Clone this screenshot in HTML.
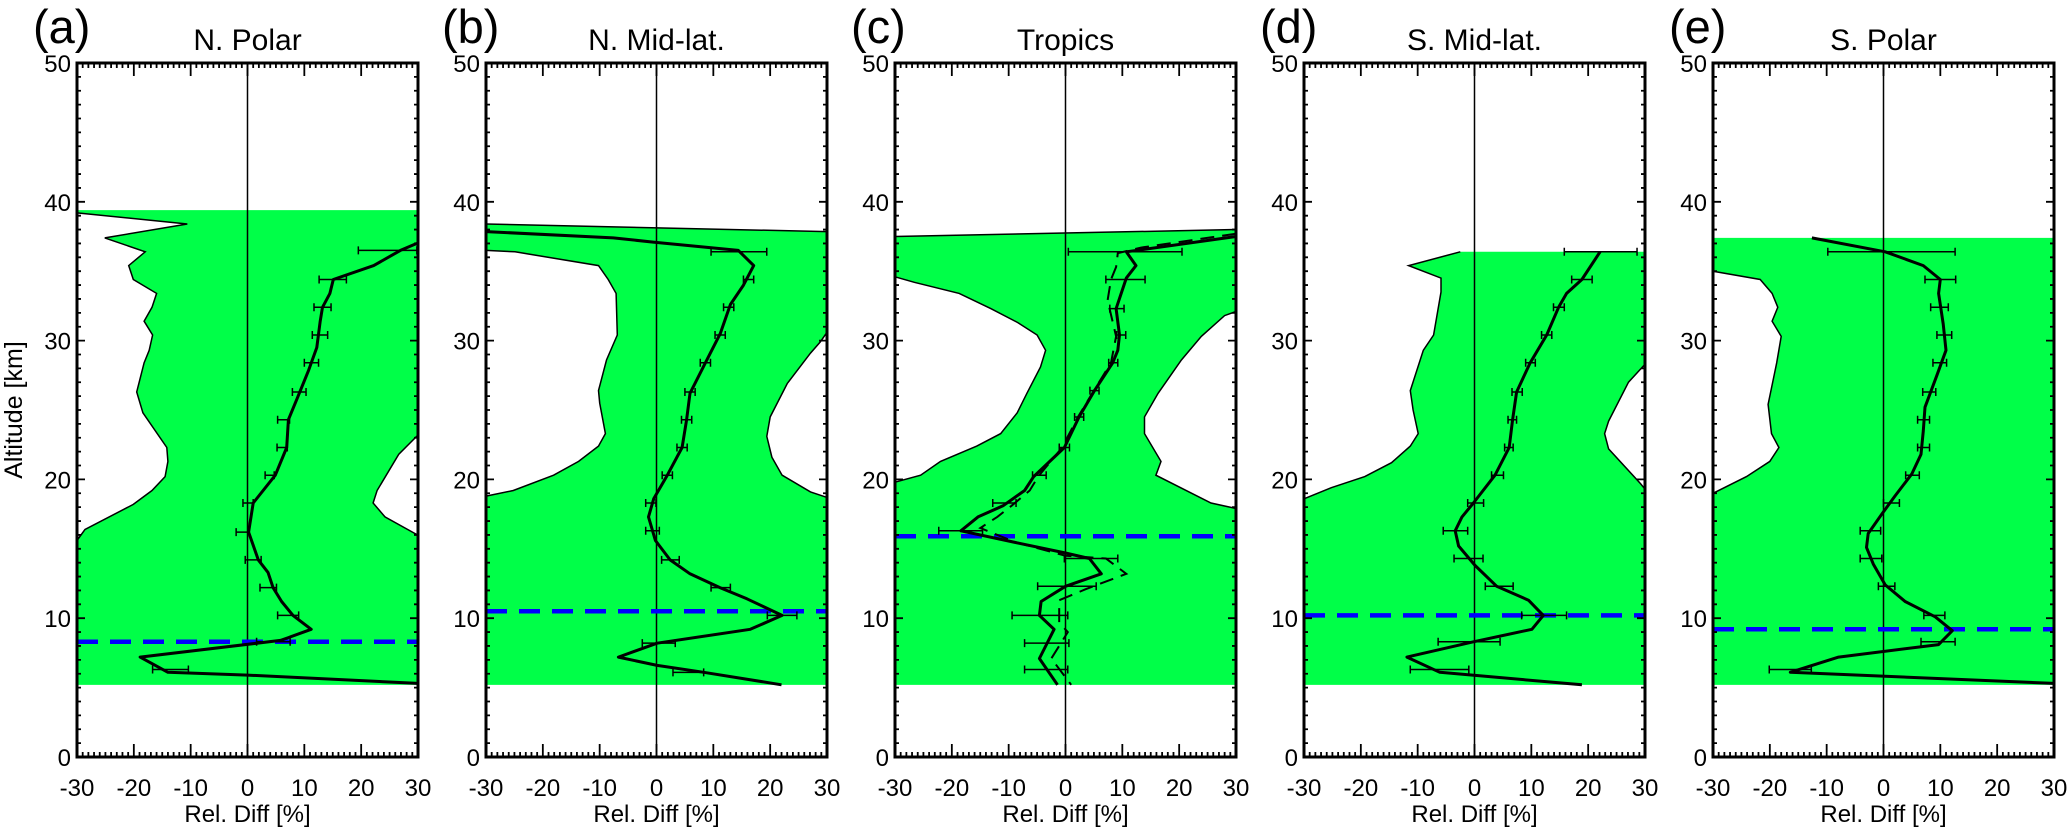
<!DOCTYPE html>
<html><head><meta charset="utf-8"><style>
html,body{margin:0;padding:0;background:#fff;}
svg{display:block;font-family:"Liberation Sans",Arial,sans-serif;}
</style></head><body>
<svg id="chart" width="2067" height="831" viewBox="0 0 2067 831" xmlns="http://www.w3.org/2000/svg">
<text transform="translate(22,410) rotate(-90)" text-anchor="middle" font-size="25">Altitude [km]</text>
</svg>
<script>
// ---- data ----
const panelLetters = ["(a)","(b)","(c)","(d)","(e)"];
const panelTitles = ["N. Polar","N. Mid-lat.","Tropics","S. Mid-lat.","S. Polar"];
const xTickLabels = [-30,-20,-10,0,10,20,30];
const yTickLabels = [0,10,20,30,40,50];
const tropopauseKm = [8.3,10.5,15.9,10.2,9.2];
const greenBottomKm = [5.2,5.2,5.2,5.2,5.2];
const greenTopLeftKm = [39.4,38.4,37.5,36.4,37.4];
const greenTopRightKm = [39.4,37.85,38.0,36.4,37.4];

const aProfileKm=[37.0,36.5,35.4,34.4,33.4,32.4,31.4,29.5,27.8,25.7,24.3,22.3,20.3,18.3,16.2,14.2,13.3,12.2,11.2,10.2,9.2,8.6,8.4,7.2,6.1,5.9,5.3];
const aProfileX=[29.8,26.9,22.2,15.1,14.5,13.2,12.8,12.2,10.7,8.6,7.2,6.9,4.9,1.0,0.2,1.9,3.6,4.5,6.0,8.0,11.2,7.2,5.8,-18.9,-14.0,0,30];
const aErrKm=[36.5,34.4,32.4,30.4,28.4,26.3,24.3,22.3,20.3,18.3,16.2,14.2,12.2,10.2,8.3,6.3];
const aErrLo=[19.5,12.6,11.7,11.4,10.0,7.9,5.3,5.2,3.1,-0.8,-2.0,-0.4,2.2,5.3,1.6,-16.7];
const aErrHi=[29.8,17.4,14.7,14.1,12.5,10.3,7.4,7.0,4.7,1.0,0.3,2.4,5.1,9.0,7.5,-10.4];
const aLeftKm=[39.2,38.4,37.4,36.4,35.4,34.4,33.4,32.4,31.4,30.4,29.3,28.4,26.3,24.8,22.3,21.3,20.2,19.2,18.2,16.4,15.6];
const aLeftX=[-30,-10.6,-25.1,-18.0,-20.9,-20.1,-16.0,-16.8,-18.2,-16.7,-17.3,-18.2,-19.5,-18.4,-14.2,-14.0,-14.5,-16.8,-20.1,-28.6,-30];
const aRightKm=[23.2,21.8,19.2,18.3,17.3,16.0];
const aRightX=[30,26.6,22.8,22.1,24.2,29.9];

const bProfileKm=[37.85,37.4,37.1,36.5,35.4,34.0,32.6,30.5,28.4,26.2,24.3,22.3,20.3,18.6,17.3,15.6,14.2,13.2,12.2,11.4,10.2,9.2,8.2,7.2,6.6,6.1,5.2];
const bProfileX=[-30,-7.6,-0.6,14.4,17.1,15.3,13.0,11.2,8.6,5.9,5.3,4.5,1.9,-0.5,-1.4,-0.2,2.4,5.9,11.2,15.9,22.1,16.5,0.1,-6.7,0.1,8.3,22];
const bErrKm=[36.4,34.4,32.4,30.4,28.4,26.3,24.3,22.3,20.3,18.3,16.3,14.2,12.2,10.2,8.2,6.1];
const bErrLo=[9.6,15.3,11.8,10.3,7.7,5.0,4.4,3.6,1.0,-1.9,-1.9,0.9,9.6,19.5,-2.5,2.9];
const bErrHi=[19.4,17.1,13.6,12.1,9.5,6.8,6.2,5.4,2.8,-0.1,0.5,4.0,13.0,24.7,3.3,8.3];
const bLeftKm=[36.5,36.4,35.4,34.4,33.4,30.4,28.6,26.4,25.5,23.3,22.4,21.3,20.3,19.2,18.8];
const bLeftX=[-30,-24.9,-10.2,-8.5,-7.1,-6.9,-8.8,-10.2,-10.0,-9.0,-10.2,-13.7,-18.1,-25.2,-30];
const bRightKm=[30.6,29.9,29.1,26.9,24.5,23.1,21.6,20.3,19.1,18.7];
const bRightX=[30,28.8,27.1,23.0,20.0,19.4,20.3,22.1,27.1,30];

const cProfileKm=[37.5,36.4,35.4,34.5,32.3,30.4,29.3,28.4,26.4,24.5,22.3,20.2,19.2,18.1,17.3,16.3,15.5,14.7,14.3,13.2,12.3,11.2,10.2,9.2,7.1,5.2];
const cProfileX=[30,10.7,12.4,10.7,8.9,9.5,9.2,8.3,5.1,2.4,-0.2,-5.6,-7.2,-11.0,-15.4,-18.4,-9.3,0,4.2,6.3,0,-4.3,-4.6,-2.0,-4.6,-1.4];
const cDashKm=[37.7,36.7,36.3,35.3,34.4,32.9,30.3,28.4,26.4,24.5,22.3,20.2,19.2,18.1,17.3,16.5,15.5,14.5,14.3,13.2,12.1,11.3,9.7,9.0,7.1,5.2];
const cDashX=[30,13.3,9.2,8.9,8.0,7.4,8.9,8.0,5.0,2.2,-0.6,-4.8,-6.3,-9.5,-12.0,-15.0,-9.0,0,7.1,10.7,3.6,-1.1,-1.1,0.4,-2.5,1.0];
const cErrKm=[36.4,34.4,32.3,30.4,28.4,26.4,24.5,22.3,20.3,18.3,16.3,14.3,12.3,10.2,8.2,6.3];
const cErrLo=[0.5,7.1,7.8,9.0,7.6,4.3,1.6,-1.1,-5.8,-12.8,-22.3,-0.2,-4.9,-9.4,-7.2,-7.2];
const cErrHi=[20.5,14.0,10.3,10.6,9.2,5.9,3.2,0.7,-3.4,-8.7,-14.6,9.2,5.4,0.4,0.6,0.4];
const cLeftKm=[34.6,34.2,33.4,32.3,31.3,30.4,29.3,28.1,26.2,24.8,23.3,22.4,21.3,20.3,19.8];
const cLeftX=[-30,-26.6,-18.7,-13.1,-8.4,-5.0,-3.5,-4.4,-6.8,-8.5,-11.4,-15.6,-22,-25.5,-30];
const cRightKm=[32.1,31.8,30.3,28.6,26.2,24.5,23.3,21.3,20.3,18.3,17.9];
const cRightX=[30,28,23.9,20.4,16.3,13.9,13.9,16.8,15.9,25.6,30];

const dProfileKm=[36.4,34.4,33.4,32.4,30.4,28.4,26.3,24.3,22.3,20.3,18.3,17.3,16.3,15.2,13.8,12.3,11.3,10.2,9.2,8.3,7.2,6.1,5.2];
const dProfileX=[22.1,18.9,16.2,14.8,12.7,9.8,7.4,6.7,6.1,3.6,-0.2,-2.2,-3.4,-2.8,0.1,3.9,9.5,12.1,10.1,-0.2,-11.9,-6.1,18.9];
const dErrKm=[36.4,34.4,32.4,30.4,28.4,26.3,24.3,22.3,20.3,18.3,16.3,14.3,12.3,10.2,8.3,6.3];
const dErrLo=[15.8,17.1,13.9,11.8,9.0,6.6,5.9,5.3,3.0,-1.2,-5.5,-3.6,1.9,8.3,-6.4,-11.3];
const dErrHi=[28.6,20.7,15.8,13.6,10.7,8.4,7.4,6.8,5.1,1.6,-1.2,1.5,6.8,16.2,4.5,-1.0];
const dLeftKm=[36.4,35.4,34.5,33.5,30.4,29.3,26.4,25.0,23.3,22.4,21.2,20.2,19.4,18.6];
const dLeftX=[-2.5,-11.6,-5.9,-5.9,-7.2,-9.0,-11.3,-10.8,-9.9,-11.3,-14.6,-19.3,-25.2,-30];
const dRightKm=[28.3,27.0,24.2,23.3,22.2,19.7,19.3];
const dRightX=[30,27.1,23.6,22.9,23.6,29.2,30];

const eProfileKm=[37.4,36.4,35.4,34.4,33.4,31.2,29.3,27.5,25.2,23.5,21.8,20.4,18.8,17.5,16.1,15.1,13.9,12.4,11.2,10.1,9.1,8.1,7.2,6.1,5.3];
const eProfileX=[-12.6,0.3,7.0,10.0,9.7,10.5,11.0,9.4,7.3,7.0,6.6,5.0,2.0,-0.3,-2.7,-3.0,-1.8,0.3,3.8,9.1,12.1,9.7,-7.9,-16.4,30];
const eErrKm=[36.4,34.4,32.4,30.4,28.4,26.3,24.3,22.3,20.3,18.3,16.3,14.3,12.3,10.2,8.3,6.3];
const eErrLo=[-9.8,7.3,8.3,9.4,8.7,6.9,6.0,6.0,3.9,0.0,-4.1,-4.1,-0.9,7.1,6.6,-20.1];
const eErrHi=[12.6,12.7,11.4,12.0,11.1,9.2,8.1,8.1,6.3,2.8,-0.5,-0.3,2.0,10.8,12.6,-12.7];
const eLeftKm=[35.0,34.4,33.4,32.4,31.4,30.3,28.4,25.4,23.3,22.3,21.3,20.2,19.0];
const eLeftX=[-30,-21.7,-19.6,-18.6,-19.6,-18.0,-18.8,-20.3,-19.7,-18.4,-20.0,-24.1,-30];

const profilesKm=[aProfileKm,bProfileKm,cProfileKm,dProfileKm,eProfileKm];
const profilesX=[aProfileX,bProfileX,cProfileX,dProfileX,eProfileX];
const errKm=[aErrKm,bErrKm,cErrKm,dErrKm,eErrKm];
const errLo=[aErrLo,bErrLo,cErrLo,dErrLo,eErrLo];
const errHi=[aErrHi,bErrHi,cErrHi,dErrHi,eErrHi];
const leftKm=[aLeftKm,bLeftKm,cLeftKm,dLeftKm,eLeftKm];
const leftX=[aLeftX,bLeftX,cLeftX,dLeftX,eLeftX];
const rightKm=[aRightKm,bRightKm,cRightKm,dRightKm,null];
const rightX=[aRightX,bRightX,cRightX,dRightX,null];

// ---- layout ----
const NS="http://www.w3.org/2000/svg";
const svg=document.getElementById('chart');
const PW=341, Y0=757, KM=13.88;
function panelLeft(i){return 77+i*409;}
function xs(i,v){return panelLeft(i)+(v+30)/60*PW;}
function ys(k){return Y0-k*KM;}
function mk(tag,attrs,parent){const e=document.createElementNS(NS,tag);for(const k in attrs)e.setAttribute(k,attrs[k]);(parent||svg).appendChild(e);return e;}
function pts(i,kms,xv){return kms.map((k,j)=>xs(i,xv[j]).toFixed(1)+','+ys(k).toFixed(1));}

for(let i=0;i<5;i++){
  const L=panelLeft(i), R=L+PW, T=ys(50), B=ys(0);
  const g=mk('g',{});
  
  
  const gp=mk('polygon',{points:[xs(i,-30)+','+ys(greenBottomKm[i]),xs(i,30)+','+ys(greenBottomKm[i]),xs(i,30)+','+ys(greenTopRightKm[i]),xs(i,-30)+','+ys(greenTopLeftKm[i])].join(' '),fill:'#00ff48'},g);
  
  
  if(i===1||i===2){
    const tl=mk('line',{x1:xs(i,-30),y1:ys(greenTopLeftKm[i]),x2:xs(i,30),y2:ys(greenTopRightKm[i]),stroke:'#000','stroke-width':1.5},g);
    
    
  }
  {const lk=leftKm[i], lx=leftX[i];
   const p=pts(i,lk,lx);
   const top=lk[0]+0.3;
   const poly=[xs(i,-30)+','+ys(lk[lk.length-1]), xs(i,-30)+','+ys(top), xs(i,lx[0])+','+ys(top)].concat(p);
   const h=mk('polygon',{points:poly.join(' '),fill:'#fff'},g);
   
   
   const hl=mk('polyline',{points:p.join(' '),fill:'none',stroke:'#000','stroke-width':1.5},g);
   
   }
  if(rightKm[i]){const rk=rightKm[i], rx=rightX[i];
   const p=pts(i,rk,rx);
   const h=mk('polygon',{points:p.join(' '),fill:'#fff'},g);
   
   
   const hl=mk('polyline',{points:p.join(' '),fill:'none',stroke:'#000','stroke-width':1.5},g);
   
   }
  const z=mk('line',{x1:xs(i,0),y1:T,x2:xs(i,0),y2:B,stroke:'#000','stroke-width':1.5},g);
  
  
  const tp=mk('line',{x1:L,y1:ys(tropopauseKm[i]),x2:R,y2:ys(tropopauseKm[i]),stroke:'#0000ff','stroke-width':4.5,'stroke-dasharray':'21 12'},g);
  
  
  const ek=errKm[i];
  for(let j=0;j<ek.length;j++){
    const y=ys(ek[j]), x1=xs(i,errLo[i][j]), x2=xs(i,errHi[i][j]);
    const eb=mk('path',{d:`M${x1},${y}H${x2}M${x1},${y-4}V${y+4}M${x2},${y-4}V${y+4}`,stroke:'#000','stroke-width':1.5,fill:'none'},g);
    
    
  }
  if(i===2){
    const d=mk('polyline',{points:pts(i,cDashKm,cDashX).join(' '),fill:'none',stroke:'#000','stroke-width':2,'stroke-dasharray':'14 8'},g);
    
    
  }
  const pl=mk('polyline',{points:pts(i,profilesKm[i],profilesX[i]).join(' '),fill:'none',stroke:'#000','stroke-width':3,'stroke-linejoin':'round'},g);
  
  
  const fr=mk('rect',{x:L,y:T,width:PW,height:B-T,fill:'none',stroke:'#000','stroke-width':3},g);
  
  
  let d='';
  for(let v=-30;v<=30;v++){const x=xs(i,v), len=(v%10===0)?13:5; d+=`M${x},${B}V${B-len}M${x},${T}V${T+len}`;}
  for(let k=0;k<=50;k++){const y=ys(k), len=(k%10===0)?8:4; d+=`M${L},${y}H${L+len}M${R},${y}H${R-len}`;}
  const tk=mk('path',{d:d,stroke:'#000','stroke-width':1.8,fill:'none'},g);
  
  
  for(const v of xTickLabels){
    const t=mk('text',{x:xs(i,v),y:796,'text-anchor':'middle','font-size':24},g);
    t.textContent=v;
    
    
  }
  for(const k of yTickLabels){
    const t=mk('text',{x:L-6,y:ys(k)+9,'text-anchor':'end','font-size':24},g);
    t.textContent=k;
    
    
  }
  const xt=mk('text',{x:L+PW/2,y:822,'text-anchor':'middle','font-size':24},g);
  xt.textContent='Rel. Diff [%]';
  
  
  const ti=mk('text',{x:L+PW/2,y:50,'text-anchor':'middle','font-size':30},g);
  ti.textContent=panelTitles[i];
  
  
  const le=mk('text',{x:L-44,y:43,'font-size':47},g);
  le.textContent=panelLetters[i];
  
  
}
</script>
</body></html>
